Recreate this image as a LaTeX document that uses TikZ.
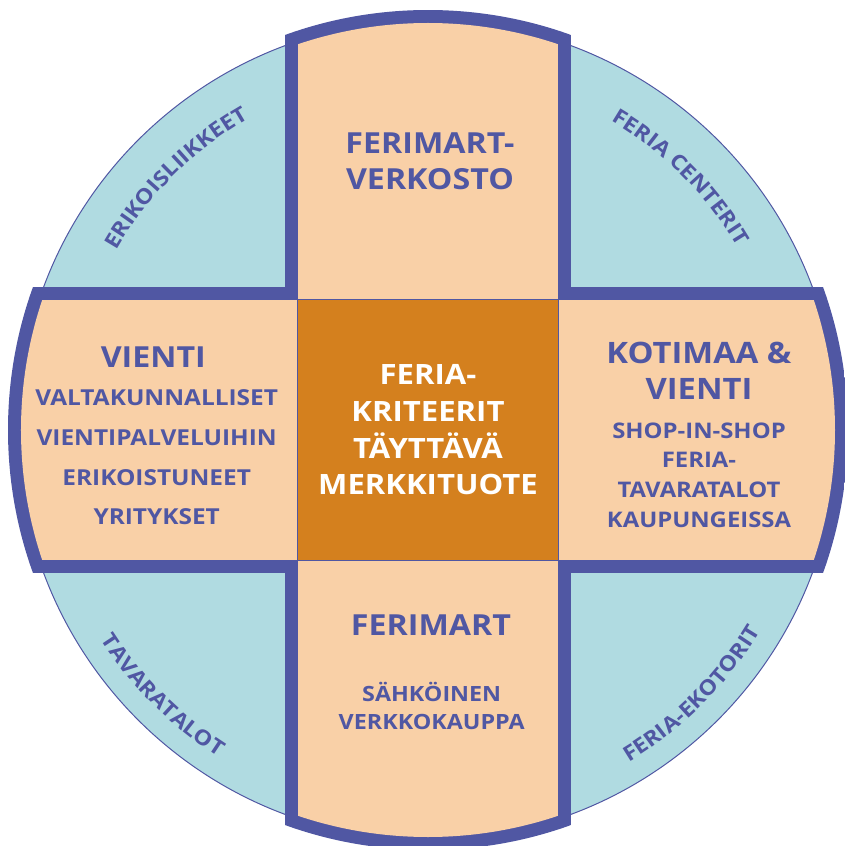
\documentclass[tikz,border=0pt]{standalone}
\usepackage{fontspec}
\setmainfont{Open Sans}[FakeStretch=1.11]
\usetikzlibrary{decorations.text}
\definecolor{frameblue}{HTML}{5057A3}
\definecolor{peach}{HTML}{F9D0A7}
\definecolor{ringblue}{HTML}{B0DBE1}
\definecolor{corefill}{HTML}{D4801E}
\newcommand\ringfont{\bfseries\fontsize{21}{21}\selectfont}
\begin{document}
\begin{tikzpicture}[
    x			= 1pt,
    y			= 1pt,
    bigtext/.style	= {text=frameblue, align=center, inner sep=0pt, font=\bfseries\fontsize{29}{36.3}\selectfont},
    smalltext/.style	= {text=frameblue, align=center, inner sep=0pt, font=\bfseries\fontsize{22}{39.6}\selectfont},
    ringlabel/.style	= {decorate, decoration={text along path, text align=center, text color=frameblue, text={|\ringfont|#1}}}
  ]
\useasboundingbox (-428,-416) rectangle (416,430);
% outer ring
\filldraw[fill=ringblue, draw=frameblue, line width=1pt] (0,0) circle[radius=410];
% cross: blue frame
\begin{scope}
  \clip (0,0) circle[radius=420];
  \fill[frameblue] (-142.5,-420) rectangle (142.5,420);
  \fill[frameblue] (-420,-142.5) rectangle (420,142.5);
\end{scope}
% cross: arms
\begin{scope}
  \clip (0,0) circle[radius=407];
  \fill[peach] (-130,-410) rectangle (130,410);
  \fill[peach] (-410,-130) rectangle (410,130);
\end{scope}
% centre square
\node[draw=frameblue, line width=0.8pt, fill=corefill, minimum size=261, inner sep=0pt,
      text=white, align=center, font=\bfseries\fontsize{28}{36.7}\selectfont] (kriteerit) at (0,0)
  {FERIA-\\KRITEERIT\\TÄYTTÄVÄ\\MERKKITUOTE};
% arm texts
\node[bigtext] (verkosto) at (2,269) {FERIMART-\\VERKOSTO};
\node[bigtext] (vienti) at (-274.7,73.3) {VIENTI};
\node[smalltext] (vientilista) at (-271.3,-27.5) {VALTAKUNNALLISET\\VIENTIPALVELUIHIN\\ERIKOISTUNEET\\YRITYKSET};
\node[bigtext, font=\bfseries\fontsize{29.5}{36}\selectfont] (kotimaa) at (271,59.5) {KOTIMAA \&\\VIENTI};
\node[smalltext, font=\bfseries\fontsize{21.5}{29.7}\selectfont] (shop) at (271,-45) {SHOP-IN-SHOP\\FERIA-\\TAVARATALOT\\KAUPUNGEISSA};
\node[bigtext] (ferimart) at (3,-195.5) {FERIMART};
\node[smalltext, font=\bfseries\fontsize{21}{28.3}\selectfont] (kauppa) at (3.7,-276) {SÄHKÖINEN\\VERKKOKAUPPA};
% ring labels
\path[ringlabel={ERIKOISLIIKKEET}] (160:359.5) arc[start angle=160, end angle=110, radius=359.5];
\path[ringlabel={FERIA CENTERIT}] (70:359.5) arc[start angle=70, end angle=20, radius=359.5];
\path[ringlabel={TAVARATALOT}] (200:388.5) arc[start angle=200, end angle=250, radius=388.5];
\path[ringlabel={FERIA-EKOTORIT}] (290:388.5) arc[start angle=290, end angle=340, radius=388.5];
%
\end{tikzpicture}
\end{document}
